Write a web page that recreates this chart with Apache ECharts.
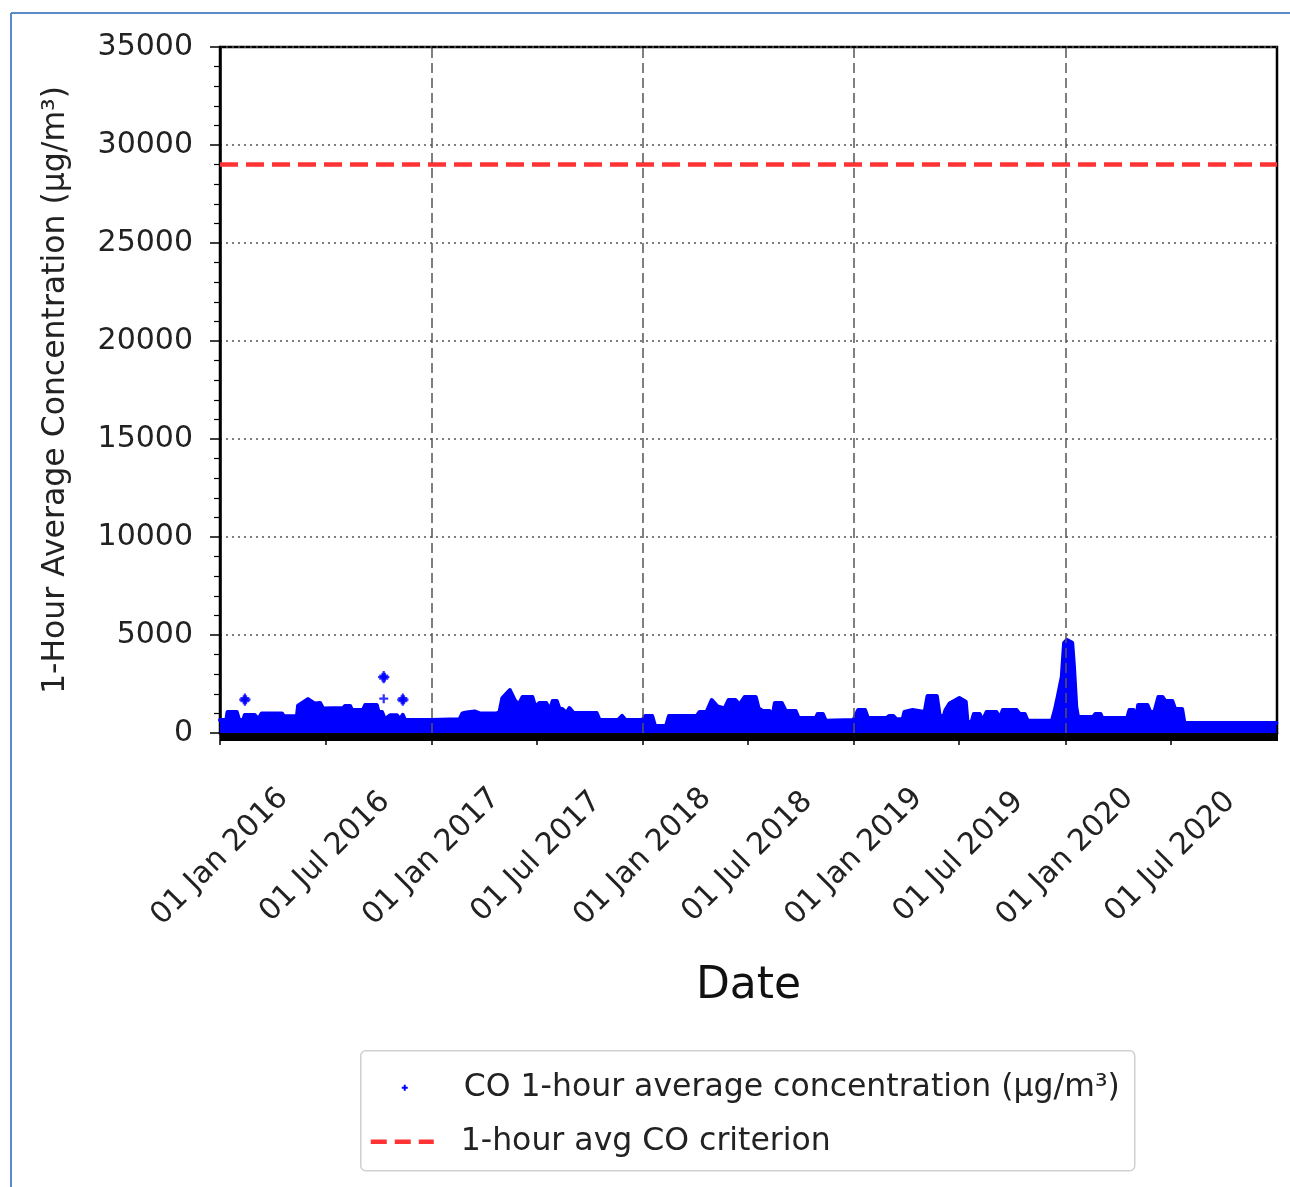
<!DOCTYPE html>
<html>
<head>
<meta charset="utf-8">
<script src="https://cdn.jsdelivr.net/npm/echarts@6/dist/echarts.min.js"></script>
<style>
  html, body { margin: 0; padding: 0; background: #ffffff; }
  #chart { width: 1290px; height: 1187px; }
</style>
</head>
<body>
<div id="chart"></div>
<script>
// Axis range and tick labels
const xStart = '2016-01-01';
const xEnd = '2021-01-01';
const tickDates = ['2016-01-01', '2016-07-01', '2017-01-01', '2017-07-01', '2018-01-01',
  '2018-07-01', '2019-01-01', '2019-07-01', '2020-01-01', '2020-07-01'];
const tickLabels = ['01 Jan 2016', '01 Jul 2016', '01 Jan 2017', '01 Jul 2017', '01 Jan 2018',
  '01 Jul 2018', '01 Jan 2019', '01 Jul 2019', '01 Jan 2020', '01 Jul 2020'];
const yearGridDates = ['2017-01-01', '2018-01-01', '2019-01-01', '2020-01-01'];

// Upper edge of the dense cloud of hourly CO readings (µg/m³)
const bandDates = [
  '2016-01-01', '2016-01-12', '2016-01-14', '2016-01-30', '2016-02-03', '2016-02-10', '2016-02-13', '2016-03-01',
  '2016-03-07', '2016-03-13', '2016-04-17', '2016-04-20', '2016-05-13', '2016-05-15', '2016-06-01', '2016-06-13',
  '2016-06-22', '2016-06-27', '2016-08-01', '2016-08-04', '2016-08-13', '2016-08-16', '2016-09-04', '2016-09-08',
  '2016-09-28', '2016-10-01', '2016-10-07', '2016-10-12', '2016-10-21', '2016-11-02', '2016-11-07', '2016-11-12',
  '2016-11-16', '2016-12-31',
  '2017-01-01', '2017-02-18', '2017-02-23', '2017-03-02', '2017-03-16', '2017-03-25', '2017-04-06', '2017-04-23',
  '2017-04-28', '2017-05-03', '2017-05-16', '2017-05-24', '2017-05-31', '2017-06-07', '2017-06-24', '2017-06-29',
  '2017-07-06', '2017-07-18', '2017-07-24', '2017-07-29', '2017-08-05', '2017-08-10', '2017-08-15', '2017-08-22',
  '2017-08-27', '2017-09-03', '2017-10-13', '2017-10-18', '2017-11-19', '2017-11-26', '2017-12-02', '2017-12-31',
  '2018-01-05', '2018-01-17', '2018-01-22', '2018-02-10', '2018-02-15', '2018-04-04', '2018-04-09', '2018-04-21',
  '2018-04-30', '2018-05-10', '2018-05-22', '2018-05-29', '2018-06-10', '2018-06-17', '2018-06-26', '2018-07-15',
  '2018-07-20', '2018-07-27', '2018-08-08', '2018-08-12', '2018-08-17', '2018-08-29', '2018-09-05', '2018-09-22',
  '2018-09-27', '2018-10-27', '2018-10-30', '2018-11-08', '2018-11-13', '2018-12-31',
  '2019-01-08', '2019-01-20', '2019-01-25', '2019-02-26', '2019-03-03', '2019-03-10', '2019-03-15', '2019-03-26',
  '2019-03-29', '2019-04-12', '2019-05-03', '2019-05-08', '2019-05-24', '2019-05-29', '2019-06-05', '2019-06-08',
  '2019-06-15', '2019-07-02', '2019-07-13', '2019-07-16', '2019-07-23', '2019-07-27', '2019-08-06', '2019-08-11',
  '2019-08-18', '2019-09-04', '2019-09-10', '2019-09-15', '2019-10-09', '2019-10-14', '2019-10-23', '2019-10-28',
  '2019-12-09', '2019-12-14', '2019-12-19', '2019-12-26', '2019-12-30',
  '2020-01-04', '2020-01-13', '2020-01-16', '2020-01-20', '2020-01-23', '2020-02-18', '2020-02-22', '2020-03-02',
  '2020-03-05', '2020-04-17', '2020-04-21', '2020-04-28', '2020-05-03', '2020-05-06', '2020-05-22', '2020-05-27',
  '2020-06-03', '2020-06-10', '2020-06-17', '2020-06-22', '2020-07-04', '2020-07-09', '2020-07-21', '2020-07-25',
  '2020-12-31'
];
const bandTop = [
  660, 660, 1070, 1070, 660, 660, 920, 920,
  700, 1000, 1000, 860, 860, 1400, 1730, 1500,
  1530, 1250, 1275, 1380, 1380, 1170, 1170, 1430,
  1430, 1070, 1070, 700, 900, 900, 700, 920,
  660, 660,
  700, 700, 1000, 1050, 1100, 1000, 1000, 1000,
  1050, 1780, 2190, 1700, 1430, 1840, 1840, 1330,
  1530, 1530, 1170, 1630, 1630, 1220, 1220, 1020,
  1270, 1020, 1020, 660, 660, 870, 660, 660,
  870, 870, 360, 360, 870, 870, 1070, 1070,
  1680, 1350, 1250, 1680, 1680, 1450, 1840, 1840,
  1250, 1120, 1120, 660, 1530, 1530, 1120, 1120,
  760, 760, 970, 970, 620, 660,
  1170, 1170, 760, 760, 870, 870, 700, 700,
  1070, 1170, 1070, 1890, 1890, 870, 870, 1170,
  1500, 1780, 1600, 560, 560, 970, 970, 620,
  1070, 1070, 760, 1170, 1170, 970, 970, 620,
  620, 1170, 1840, 2860, 4600,
  4750, 4600, 3400, 1330, 820, 820, 970, 970,
  760, 760, 1170, 1170, 760, 1430, 1430, 1070,
  1070, 1840, 1840, 1630, 1630, 1220, 1220, 510,
  510
];

// Isolated readings standing clear of the cloud
const peakDates = [
  '2016-02-11', '2016-02-13', '2016-02-13', '2016-02-15',
  '2016-10-08', '2016-10-10', '2016-10-10', '2016-10-12',
  '2016-10-10',
  '2016-11-10', '2016-11-12', '2016-11-12', '2016-11-14'
];
const peakValues = [
  1700, 1780, 1620, 1700,
  2850, 2930, 2770, 2850,
  1750,
  1700, 1780, 1620, 1700
];

// 1-hour CO criterion (µg/m³)
const criterionValue = 29000;

const seriesName = 'CO 1-hour average concentration (µg/m³)';
const criterionName = '1-hour avg CO criterion';
const FONT = 'DejaVu Sans';
const BLUE = '#0000ff';
const RED = '#ff3333';

function ts(s) {
  const p = s.split('-').map(Number);
  return Date.UTC(p[0], p[1] - 1, p[2]);
}
const tickTs = tickDates.map(ts);
const x0 = ts(xStart);
const x1 = ts(xEnd);
const dayCount = Math.round((x1 - x0) / 864e5);

const bandData = bandDates.map((d, i) => [ts(d), bandTop[i]]);
const peakData = peakDates.map((d, i) => [ts(d), peakValues[i]]);
const plusPath = 'path://M3,0H5V3H8V5H5V8H3V5H0V3H3Z';

const chart = echarts.init(document.getElementById('chart'), null, { renderer: 'canvas' });

chart.setOption({
  backgroundColor: '#ffffff',
  animation: false,
  grid: {
    left: 220, right: 13, top: 47, bottom: 454,
    show: true, borderColor: '#000', borderWidth: 2.5, backgroundColor: 'transparent'
  },
  xAxis: [{
    type: 'value',
    min: x0,
    max: x1,
    name: 'Date',
    nameLocation: 'middle',
    nameGap: 232,
    nameTextStyle: { fontFamily: FONT, fontSize: 44, color: '#111' },
    axisLine: { show: true, onZero: false, lineStyle: { color: '#000', width: 2.5 } },
    axisTick: { show: true, customValues: tickTs, length: 12, lineStyle: { color: '#000', width: 1.5 } },
    axisLabel: {
      customValues: tickTs,
      rotate: 45,
      align: 'center',
      verticalAlign: 'middle',
      margin: 124,
      fontFamily: FONT,
      fontSize: 30,
      color: '#222',
      formatter: function (v) {
        const i = tickTs.indexOf(v);
        return i >= 0 ? tickLabels[i] : '';
      }
    },
    splitLine: { show: false }
  }, {
    // dense daily minor ticks along the bottom spine
    type: 'value',
    min: 0,
    max: dayCount,
    interval: 1,
    position: 'bottom',
    axisLine: { show: false },
    axisTick: { show: true, length: 8, lineStyle: { color: '#000', width: 1 } },
    axisLabel: { show: false },
    splitLine: { show: false }
  }],
  yAxis: {
    type: 'value',
    min: 0,
    max: 35000,
    interval: 5000,
    name: '1-Hour Average Concentration (µg/m³)',
    nameLocation: 'middle',
    nameGap: 148,
    nameTextStyle: { fontFamily: FONT, fontSize: 31.5, color: '#222' },
    axisLine: { show: true, lineStyle: { color: '#000', width: 2.5 } },
    axisTick: { show: true, length: 10, lineStyle: { color: '#000', width: 1.5 } },
    minorTick: { show: true, splitNumber: 5, length: 6, lineStyle: { color: '#000', width: 1.2 } },
    axisLabel: {
      fontFamily: FONT, fontSize: 30, color: '#222', margin: 27,
      formatter: function (v) { return String(v); }
    },
    splitLine: { show: true, lineStyle: { color: '#555', width: 1.5, type: [2, 4] } }
  },
  series: [{
    // yearly vertical grid lines
    name: 'grid',
    type: 'scatter',
    data: [],
    z: 1,
    silent: true,
    markLine: {
      silent: true,
      symbol: ['none', 'none'],
      label: { show: false },
      lineStyle: { color: '#555', width: 1.5, type: [10, 5] },
      data: yearGridDates.map(d => ({ xAxis: ts(d) }))
    }
  }, {
    name: seriesName,
    type: 'line',
    data: bandData,
    symbol: 'none',
    z: 3,
    lineStyle: { color: BLUE, width: 4, join: 'round', cap: 'round' },
    areaStyle: { color: BLUE, opacity: 1 },
    silent: true
  }, {
    name: seriesName,
    type: 'scatter',
    data: peakData,
    symbol: plusPath,
    symbolSize: 9,
    z: 3,
    itemStyle: { color: BLUE },
    silent: true
  }, {
    name: criterionName,
    type: 'line',
    data: [[x0, criterionValue], [x1, criterionValue]],
    symbol: 'none',
    z: 4,
    lineStyle: { color: RED, width: 4.5, type: [18, 8] },
    silent: true
  }],
  graphic: [
    // frame around the figure
    { type: 'line', shape: { x1: 11, y1: 13, x2: 1290, y2: 13 }, style: { stroke: '#5b8ac9', lineWidth: 2 }, silent: true },
    { type: 'line', shape: { x1: 11, y1: 13, x2: 11, y2: 1187 }, style: { stroke: '#5b8ac9', lineWidth: 2 }, silent: true },
    // legend
    {
      type: 'group', left: 360, top: 1050, silent: true,
      children: [
        { type: 'rect', shape: { x: 0, y: 0, width: 774, height: 120, r: 5 }, style: { fill: '#fff', stroke: '#d0d0d0', lineWidth: 1.5 } },
        { type: 'rect', shape: { x: 41, y: 36, width: 6, height: 2 }, style: { fill: BLUE } },
        { type: 'rect', shape: { x: 43, y: 34, width: 2, height: 6 }, style: { fill: BLUE } },
        { type: 'text', x: 103, y: 37, style: { text: seriesName, font: '31.5px "DejaVu Sans"', fill: '#222', verticalAlign: 'middle' } },
        { type: 'line', shape: { x1: 10, y1: 91, x2: 73, y2: 91 }, style: { stroke: RED, lineWidth: 4.5, lineDash: [16, 8] } },
        { type: 'text', x: 100, y: 91, style: { text: criterionName, font: '31.5px "DejaVu Sans"', fill: '#222', verticalAlign: 'middle' } }
      ]
    }
  ]
});
</script>
</body>
</html>
